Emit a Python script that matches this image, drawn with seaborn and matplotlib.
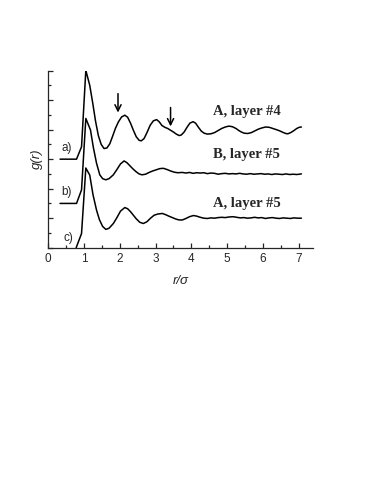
import numpy as np
import pandas as pd
import matplotlib
matplotlib.use("Agg")
import matplotlib.pyplot as plt
import seaborn as sns

# g(r) curves (r in units of sigma)
r_a = [0.33, 0.79, 0.93, 1.05, 1.16, 1.25, 1.32, 1.40, 1.48, 1.56, 1.64, 1.72, 1.80, 1.88, 1.96,
       2.05, 2.14, 2.22, 2.30, 2.38, 2.46, 2.54, 2.60, 2.68, 2.76, 2.85, 2.94, 3.03, 3.10, 3.18,
       3.26, 3.34, 3.42, 3.50, 3.58, 3.66, 3.72, 3.80, 3.88, 3.96, 4.05, 4.12, 4.20, 4.28, 4.36,
       4.45, 4.55, 4.65, 4.75, 4.85, 4.95, 5.05, 5.15, 5.25, 5.33, 5.40, 5.48, 5.58, 5.68, 5.78,
       5.88, 5.98, 6.08, 6.18, 6.28, 6.38, 6.47, 6.56, 6.64, 6.70, 6.78, 6.86, 6.95, 7.02, 7.08]
g_a = [0.00, 0.00, 0.42, 3.01, 2.50, 1.85, 1.30, 0.80, 0.50, 0.36, 0.38, 0.52, 0.78, 1.05, 1.26,
       1.43, 1.49, 1.42, 1.22, 0.98, 0.76, 0.64, 0.62, 0.70, 0.90, 1.15, 1.30, 1.34, 1.27, 1.14,
       1.08, 1.04, 0.98, 0.92, 0.85, 0.80, 0.82, 0.92, 1.08, 1.22, 1.27, 1.22, 1.08, 0.95, 0.88,
       0.85, 0.86, 0.90, 0.97, 1.04, 1.09, 1.12, 1.10, 1.04, 0.97, 0.92, 0.88, 0.87, 0.90, 0.96,
       1.02, 1.06, 1.09, 1.08, 1.04, 1.00, 0.96, 0.91, 0.87, 0.86, 0.90, 0.96, 1.04, 1.08, 1.09]

r_b = [0.33, 0.79, 0.93, 1.05, 1.18, 1.26, 1.35, 1.44, 1.52, 1.61, 1.70, 1.82, 1.92, 2.02, 2.12,
       2.20, 2.28, 2.36, 2.45, 2.54, 2.62, 2.72, 2.82, 2.92, 3.02, 3.12, 3.22, 3.32, 3.42, 3.52,
       3.62, 3.75, 3.85, 3.95, 4.05, 4.15, 4.25, 4.35, 4.45, 4.55, 4.65, 4.75, 4.85, 4.95, 5.05,
       5.15, 5.25, 5.35, 5.45, 5.55, 5.65, 5.75, 5.85, 5.95, 6.05, 6.15, 6.25, 6.35, 6.45, 6.55,
       6.65, 6.75, 6.85, 6.95, 7.08]
g_b = [0.00, 0.00, 0.46, 2.88, 2.49, 1.90, 1.36, 0.97, 0.84, 0.80, 0.84, 0.97, 1.15, 1.34, 1.44,
       1.38, 1.28, 1.18, 1.08, 1.00, 0.97, 0.99, 1.05, 1.10, 1.14, 1.18, 1.19, 1.15, 1.10, 1.06,
       1.04, 1.05, 1.03, 1.05, 1.02, 1.04, 1.03, 1.04, 1.01, 1.03, 1.02, 0.99, 1.01, 1.02, 1.00,
       1.01, 1.00, 1.02, 1.00, 0.99, 1.01, 0.99, 1.00, 1.01, 0.99, 1.00, 0.98, 1.00, 0.99, 0.98,
       1.00, 0.98, 0.99, 0.98, 1.00]

r_c = [0.78, 0.93, 1.05, 1.16, 1.25, 1.35, 1.43, 1.52, 1.61, 1.70, 1.82, 1.92, 2.02, 2.14, 2.22,
       2.30, 2.38, 2.46, 2.56, 2.66, 2.76, 2.86, 2.96, 3.06, 3.19, 3.28, 3.37, 3.47, 3.57, 3.66,
       3.75, 3.85, 3.95, 4.06, 4.15, 4.25, 4.35, 4.45, 4.55, 4.65, 4.75, 4.85, 4.95, 5.05, 5.17,
       5.27, 5.37, 5.47, 5.57, 5.67, 5.77, 5.87, 5.97, 6.07, 6.17, 6.27, 6.37, 6.47, 6.57, 6.67,
       6.77, 6.87, 6.97, 7.08]
g_c = [0.00, 0.48, 2.70, 2.46, 1.80, 1.27, 0.95, 0.72, 0.62, 0.66, 0.82, 1.02, 1.24, 1.36, 1.32,
       1.22, 1.10, 0.98, 0.86, 0.82, 0.88, 1.00, 1.10, 1.14, 1.16, 1.12, 1.07, 1.02, 0.97, 0.94,
       0.94, 0.99, 1.05, 1.09, 1.07, 1.03, 1.00, 0.99, 1.01, 1.00, 1.02, 1.03, 1.02, 1.04, 1.05,
       1.03, 1.01, 1.02, 1.00, 1.01, 1.03, 1.01, 1.02, 0.99, 1.01, 1.02, 1.00, 0.99, 1.01, 1.00,
       0.99, 1.01, 1.00, 1.00]

offsets = {"a": 3.0, "b": 1.5, "c": 0.0}
curve_tags = ["a)", "b)", "c)"]
curve_names = ["A, layer #4", "B, layer #5", "A, layer #5"]
arrow_r = [1.95, 3.42]

df = pd.concat([
    pd.DataFrame({"r": r_a, "g": np.array(g_a) + offsets["a"], "curve": "a"}),
    pd.DataFrame({"r": r_b, "g": np.array(g_b) + offsets["b"], "curve": "b"}),
    pd.DataFrame({"r": r_c, "g": np.array(g_c) + offsets["c"], "curve": "c"}),
])

sns.set_style("ticks")
plt.rcParams["font.family"] = ["Liberation Sans", "DejaVu Sans"]

fig = plt.figure(figsize=(3.82, 4.94), dpi=100)
ax = fig.add_axes([0.1264, 0.4986, 0.6926, 0.3584])

sns.lineplot(data=df, x="r", y="g", units="curve", estimator=None, sort=False,
             color="black", lw=1.1, ax=ax)

ax.set_xlim(0, 7.4)
ax.set_ylim(0, 6)
ax.set_xticks(range(8))
ax.set_xticks(np.arange(0.5, 7.5, 1.0), minor=True)
ax.set_yticks(range(7))
ax.set_yticks(np.arange(0.5, 6, 1.0), minor=True)
ax.set_yticklabels([])
ax.tick_params(which="major", direction="in", length=3.5, width=0.9, labelsize=8.5, pad=4)
ax.tick_params(which="minor", direction="in", length=2, width=0.9)
sns.despine(ax=ax)
for s in ["left", "bottom"]:
    ax.spines[s].set_linewidth(0.9)

ax.set_xlabel("r/σ", style="italic", fontsize=9.5, labelpad=7)
ax.set_ylabel("g(r)", style="italic", fontsize=9.5, labelpad=0)

# curve tags and names
tag_pos = [(0.36, 3.37), (0.36, 1.89), (0.42, 0.32)]
name_y = [4.6, 3.16, 1.5]
for tag, (tx, ty) in zip(curve_tags, tag_pos):
    ax.text(tx, ty, tag, fontsize=8.5, ha="left", va="center")
for name, ny in zip(curve_names, name_y):
    ax.text(4.6, ny, name, fontsize=10.5, fontweight="bold", ha="left", va="center",
            family="Liberation Serif")

# arrows marking split peaks
arrow_top = [5.22, 4.75]
arrow_len = 0.64
for ar, at in zip(arrow_r, arrow_top):
    ax.annotate("", xy=(ar, at - arrow_len), xytext=(ar, at),
                arrowprops=dict(arrowstyle="->", lw=1.1, color="black",
                                mutation_scale=11, shrinkA=0, shrinkB=0))

fig.savefig("out.png", dpi=100)
